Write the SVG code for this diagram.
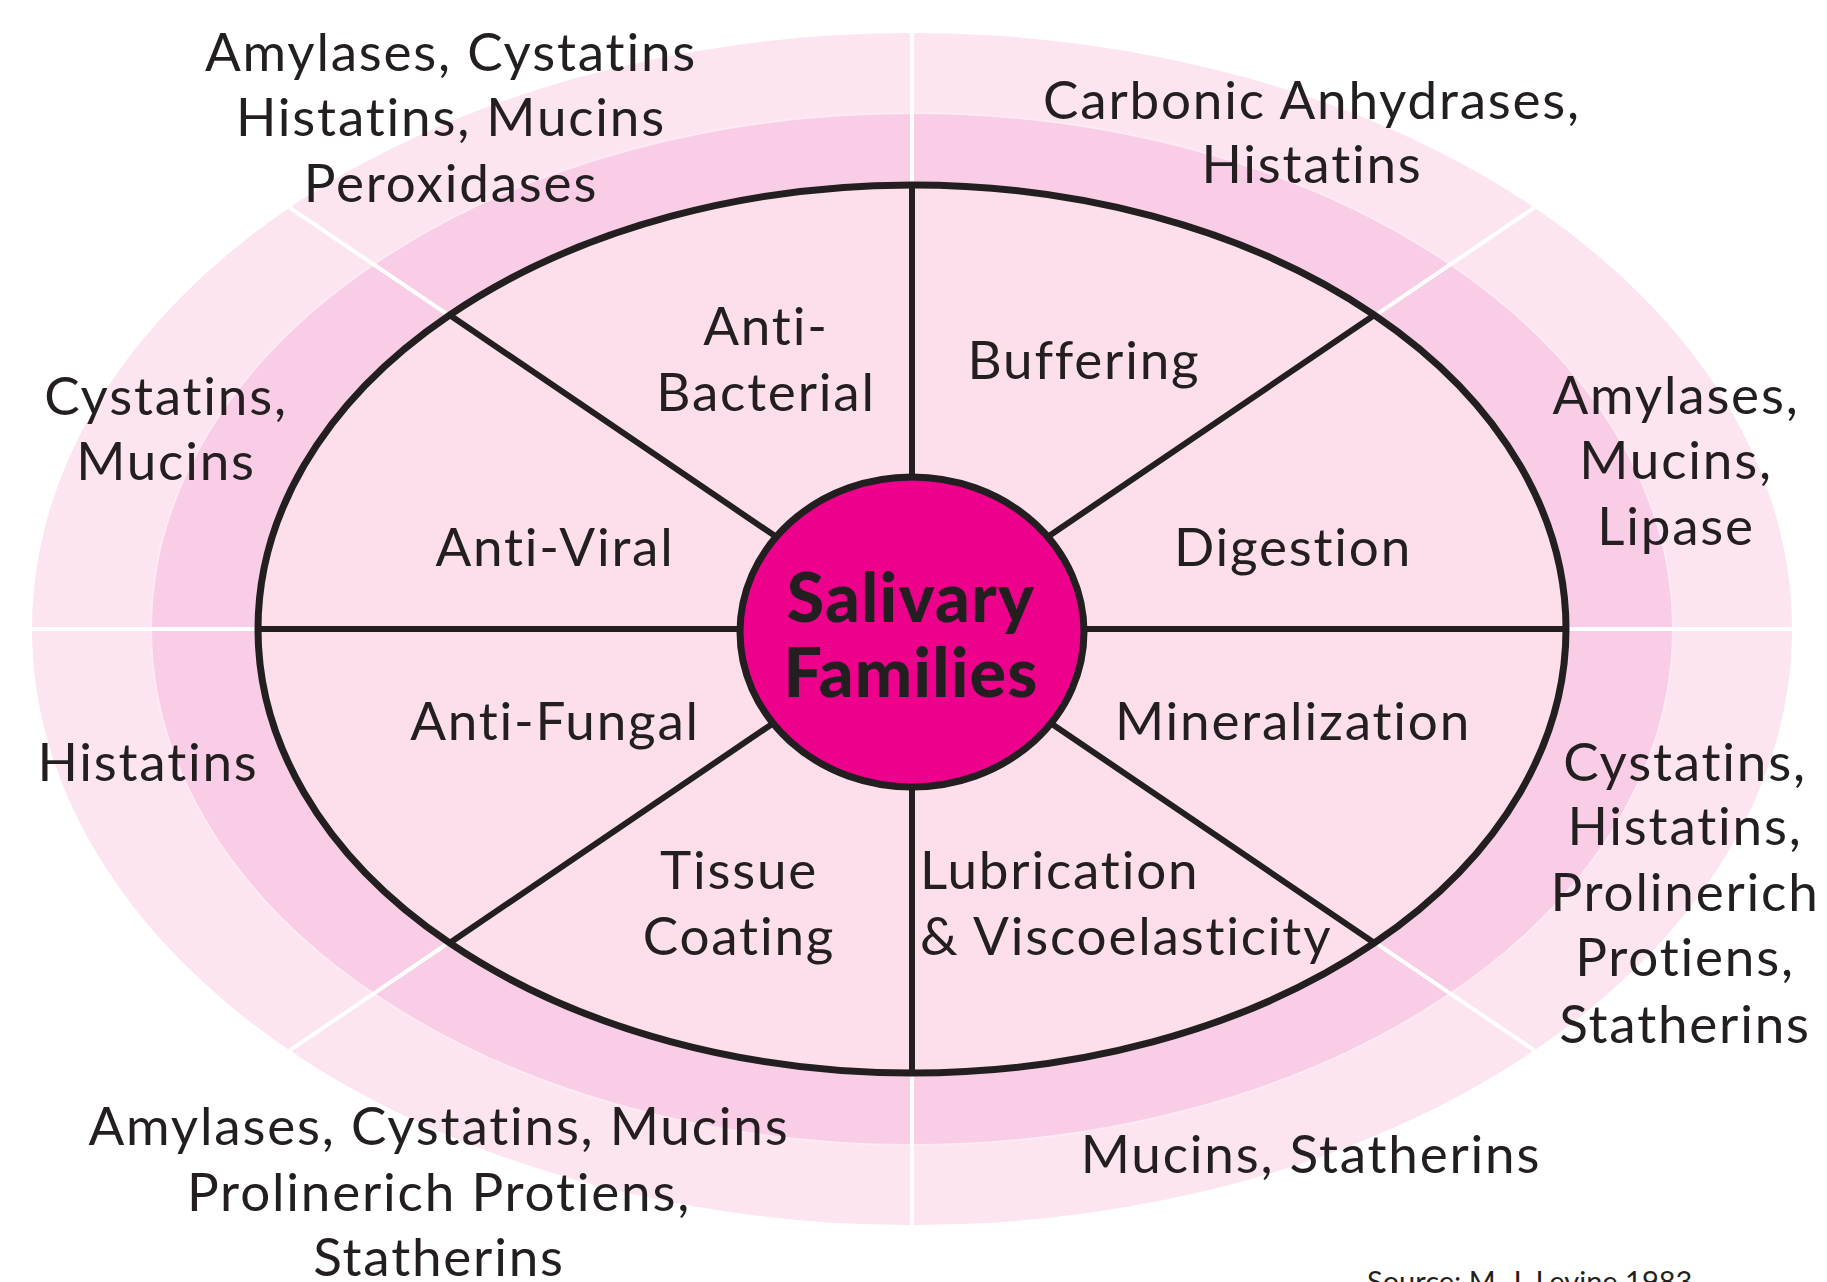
<svg xmlns="http://www.w3.org/2000/svg" width="1827" height="1282" viewBox="0 0 1827 1282">
<style>
text{font-variant-ligatures:none;font-feature-settings:"liga" 0,"clig" 0}
.lbl{font-family:Lato,"Open Sans","Liberation Sans",sans-serif;font-size:53px;letter-spacing:1.8px;fill:#231f20;text-anchor:middle}
.ctr{font-family:Lato,"Open Sans","Liberation Sans",sans-serif;font-size:68px;font-weight:900;letter-spacing:1.2px;fill:#231f20;text-anchor:middle}
.src{font-family:Lato,"Open Sans","Liberation Sans",sans-serif;font-size:29px;fill:#231f20}
.wl{stroke:#ffffff;stroke-width:4}
.sp{stroke:#231f20;stroke-width:6}
</style>
<rect width="1827" height="1282" fill="#ffffff"/>
<g id="rings">
<ellipse cx="912" cy="629" rx="880" ry="596" fill="#fce4f1"/>
<ellipse cx="912" cy="629" rx="761" ry="516" fill="#f9cde6" stroke="#fdeaf4" stroke-width="2"/>
</g>
<g id="connectors">
<g id="dividers">
<line class="wl" x1="912" y1="629" x2="912" y2="33"/>
<line class="wl" x1="912" y1="629" x2="912" y2="1225"/>
<line class="wl" x1="912" y1="629" x2="32" y2="629"/>
<line class="wl" x1="912" y1="629" x2="1792" y2="629"/>
<line class="wl" x1="912" y1="629" x2="289.7" y2="207.6"/>
<line class="wl" x1="912" y1="629" x2="1534.3" y2="207.6"/>
<line class="wl" x1="912" y1="629" x2="289.7" y2="1050.4"/>
<line class="wl" x1="912" y1="629" x2="1534.3" y2="1050.4"/>
</g>
<ellipse id="inner-ellipse" cx="912" cy="629" rx="654" ry="444" fill="#fcdfeb" stroke="#231f20" stroke-width="7"/>
<g id="spokes">
<line class="sp" x1="912" y1="629" x2="912" y2="185"/>
<line class="sp" x1="912" y1="629" x2="912" y2="1073"/>
<line class="sp" x1="912" y1="629" x2="258" y2="629"/>
<line class="sp" x1="912" y1="629" x2="1566" y2="629"/>
<line class="sp" x1="912" y1="629" x2="449.6" y2="315.1"/>
<line class="sp" x1="912" y1="629" x2="1374.4" y2="315.1"/>
<line class="sp" x1="912" y1="629" x2="449.6" y2="942.9"/>
<line class="sp" x1="912" y1="629" x2="1374.4" y2="942.9"/>
</g>
</g>
<g id="center">
<ellipse cx="912" cy="632" rx="172" ry="155" fill="#ec008c" stroke="#231f20" stroke-width="7"/>
<text class="ctr" x="911" y="622">Salivary</text>
<text class="ctr" x="911" y="697">Families</text>
</g>
<g id="anti-bacterial">
<text class="lbl" x="766" y="345">Anti-</text>
<text class="lbl" x="766" y="411">Bacterial</text>
</g>
<g id="buffering"><text class="lbl" x="1084" y="379">Buffering</text></g>
<g id="anti-viral"><text class="lbl" x="555" y="566">Anti-Viral</text></g>
<g id="digestion"><text class="lbl" x="1293" y="566">Digestion</text></g>
<g id="anti-fungal"><text class="lbl" x="555" y="740">Anti-Fungal</text></g>
<g id="mineralization"><text class="lbl" x="1293" y="740">Mineralization</text></g>
<g id="tissue-coating">
<text class="lbl" x="739" y="889">Tissue</text>
<text class="lbl" x="739" y="955">Coating</text>
</g>
<g id="lubrication">
<text class="lbl" x="920" y="889" style="text-anchor:start">Lubrication</text>
<text class="lbl" x="920" y="955" style="text-anchor:start">&amp; Viscoelasticity</text>
</g>
<g id="proteins-antibacterial">
<text class="lbl" x="451" y="71">Amylases, Cystatins</text>
<text class="lbl" x="451" y="136">Histatins, Mucins</text>
<text class="lbl" x="451" y="202">Peroxidases</text>
</g>
<g id="proteins-buffering">
<text class="lbl" x="1312" y="119">Carbonic Anhydrases,</text>
<text class="lbl" x="1312" y="183">Histatins</text>
</g>
<g id="proteins-antiviral">
<text class="lbl" x="166" y="415">Cystatins,</text>
<text class="lbl" x="166" y="480">Mucins</text>
</g>
<g id="proteins-digestion">
<text class="lbl" x="1676" y="414">Amylases,</text>
<text class="lbl" x="1676" y="479">Mucins,</text>
<text class="lbl" x="1676" y="545">Lipase</text>
</g>
<g id="proteins-antifungal"><text class="lbl" x="148" y="781">Histatins</text></g>
<g id="proteins-mineralization">
<text class="lbl" x="1685" y="781">Cystatins,</text>
<text class="lbl" x="1685" y="845">Histatins,</text>
<text class="lbl" x="1685" y="911">Prolinerich</text>
<text class="lbl" x="1685" y="976">Protiens,</text>
<text class="lbl" x="1685" y="1043">Statherins</text>
</g>
<g id="proteins-tissue-coating">
<text class="lbl" x="439" y="1145">Amylases, Cystatins, Mucins</text>
<text class="lbl" x="439" y="1211">Prolinerich Protiens,</text>
<text class="lbl" x="439" y="1276">Statherins</text>
</g>
<g id="proteins-lubrication"><text class="lbl" x="1311" y="1173">Mucins, Statherins</text></g>
<text class="src" x="1367" y="1292">Source: M. J. Levine 1983</text>
</svg>
